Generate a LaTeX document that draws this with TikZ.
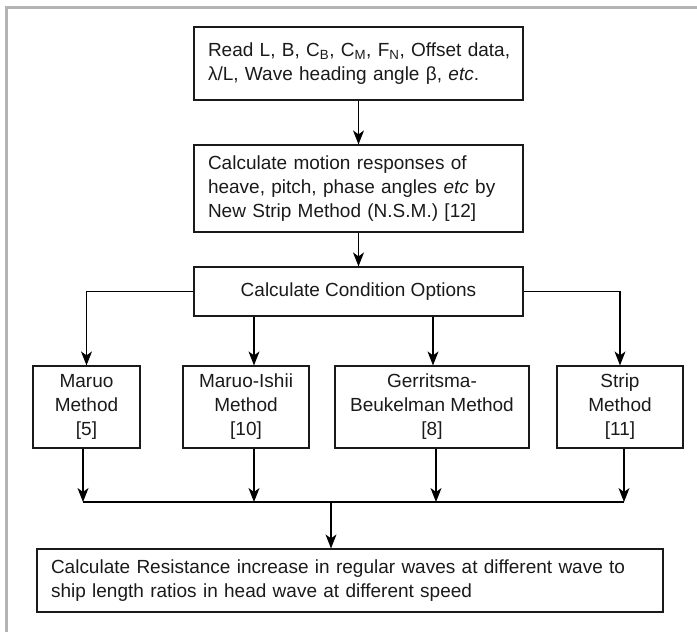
\documentclass[tikz,border=0pt]{standalone}
\usepackage{fontspec}
\setmainfont{Liberation Sans}
\usetikzlibrary{arrows.meta}
\definecolor{framegray}{HTML}{B4B4B4}
\definecolor{ink}{HTML}{1A1A1A}
\tikzset{
  box/.style={draw=ink, line width=1.2pt, text=ink, inner xsep=0pt, inner ysep=0pt,
    font=\fontsize{19}{24}\selectfont},
  leftbox/.style={box, align=left},
  methodbox/.style={box, align=center, minimum height=82pt},
  arr/.style={draw=black, line width=1.1pt, -{Stealth[length=14pt,width=11pt,inset=4pt]}},
  ln/.style={draw=black, line width=1.1pt}
}
\begin{document}
\begin{tikzpicture}[x=1pt,y=-1pt]
\useasboundingbox (0,0) rectangle (697,632);
% frame
\draw[framegray, line width=2.6pt] (6.5,632) -- (6.5,7.5) -- (697,7.5);

% main boxes
\node[leftbox, minimum width=329pt, minimum height=73pt, text width=301pt] (b1) at (358.5,63.5)
  {\mbox{Read L, B, C\textsubscript{B}, C\textsubscript{M}, F\textsubscript{N}, Offset data,}\\
   \mbox{λ/L, Wave heading angle β, \textit{etc}.}};
\node[leftbox, minimum width=329pt, minimum height=87pt, text width=301pt] (b2) at (358.5,188.5)
  {\mbox{Calculate motion responses of}\\
   \mbox{heave, pitch, phase angles \textit{etc} by}\\
   \mbox{New Strip Method (N.S.M.) [12]}};
\node[box, minimum width=329pt, minimum height=49pt] (b3) at (358.5,291.5)
  {Calculate Condition Options};

% method boxes
\node[methodbox, minimum width=107pt] (m1) at (86.5,407) {Maruo\\Method\\{[5]}};
\node[methodbox, minimum width=126pt] (m2) at (246,407) {Maruo-Ishii\\Method\\{[10]}};
\node[methodbox, minimum width=194pt] (m3) at (432,407) {Gerritsma-\\Beukelman Method\\{[8]}};
\node[methodbox, minimum width=126pt] (m4) at (620,407) {Strip\\Method\\{[11]}};

% bottom box
\node[leftbox, minimum width=626pt, minimum height=63pt, text width=598pt] (b4) at (350,580.5)
  {\mbox{Calculate Resistance increase in regular waves at different wave to}\\
   \mbox{ship length ratios in head wave at different speed}};

% connectors top
\draw[arr] (b1) -- (b2);
\draw[arr] (b2) -- (b3);
\draw[arr] (b3.west) -| (m1.north);
\draw[arr] ([xshift=8pt]m2.north |- b3.south) -- ([xshift=8pt]m2.north);
\draw[arr] ([xshift=1pt]m3.north |- b3.south) -- ([xshift=1pt]m3.north);
\draw[arr] (b3.east) -| (m4.north);

% merge
\coordinate (ml) at (83,502);
\coordinate (mr) at (624,502);
\draw[arr] ([xshift=-3.5pt]m1.south) -- ([xshift=-3.5pt]m1.south |- ml);
\draw[arr] ([xshift=8pt]m2.south) -- ([xshift=8pt]m2.south |- ml);
\draw[arr] ([xshift=4pt]m3.south) -- ([xshift=4pt]m3.south |- ml);
\draw[arr] ([xshift=4pt]m4.south) -- ([xshift=4pt]m4.south |- ml);
\draw[ln] (ml) -- (mr);
\draw[arr] ([xshift=-19pt]b4.north |- ml) -- ([xshift=-19pt]b4.north);
\end{tikzpicture}
\end{document}
